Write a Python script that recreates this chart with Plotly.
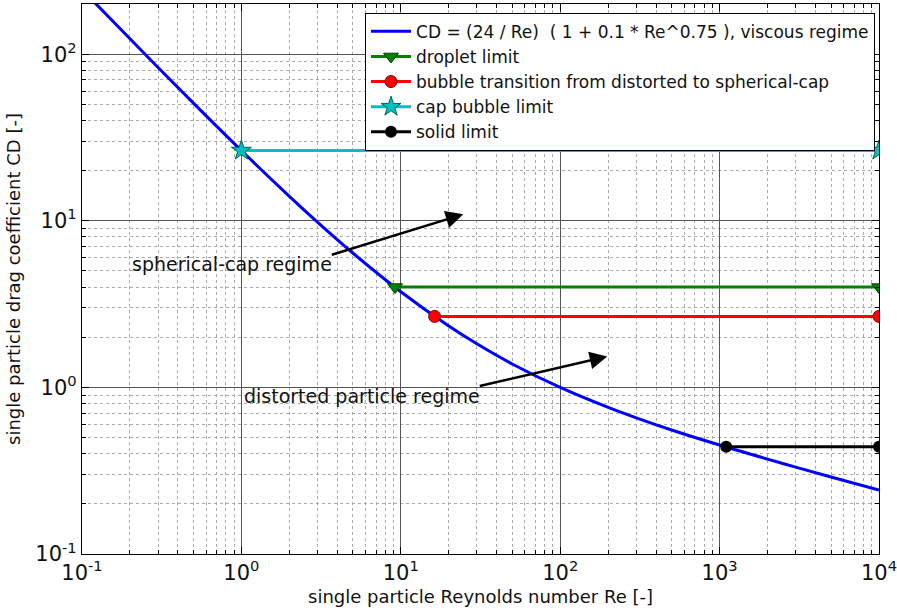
import math
import plotly.graph_objects as go

# ---- data ----
re_curve = [0.1, 0.2, 0.3, 0.5, 1, 2, 3, 5, 10, 20, 30, 50, 100, 200, 300, 500, 1000, 2000, 3000, 5000, 10000]
cd_curve = [244.3, 123.6, 83.24, 50.85, 26.4, 14.02, 9.82, 6.405, 3.75, 2.335, 1.826, 1.382, 0.999,
            0.758, 0.6566, 0.555, 0.4507, 0.371, 0.3323, 0.290, 0.2424]

droplet_re = [9.2, 10000]
droplet_cd = [4.0, 4.0]
bubble_re = [16.3, 10000]
bubble_cd = [2.667, 2.667]
cap_re = [1.0, 10000]
cap_cd = [26.4, 26.4]
solid_re = [1100, 10000]
solid_cd = [0.44, 0.44]

x_tickvals = [0.1, 1, 10, 100, 1000, 10000]
x_ticktext = ["10<sup>-1</sup>", "10<sup>0</sup>", "10<sup>1</sup>", "10<sup>2</sup>", "10<sup>3</sup>", "10<sup>4</sup>"]
y_tickvals = [0.1, 1, 10, 100]
y_ticktext = ["10<sup>-1</sup>", "10<sup>0</sup>", "10<sup>1</sup>", "10<sup>2</sup>"]

names = ["CD = (24 / Re)  ( 1 + 0.1 * Re^0.75 ), viscous regime",
         "droplet limit",
         "bubble transition from distorted to spherical-cap",
         "cap bubble limit",
         "solid limit"]

FONT = "DejaVu Sans"
fig = go.Figure()
fig.add_trace(go.Scatter(x=re_curve, y=cd_curve, mode="lines", name=names[0],
                         line=dict(color="#0000ff", width=3, shape="spline")))
fig.add_trace(go.Scatter(x=droplet_re, y=droplet_cd, mode="lines+markers", name=names[1],
                         line=dict(color="#008000", width=3),
                         marker=dict(symbol="triangle-down", size=13, color="#008000",
                                     line=dict(color="#004000", width=1))))
fig.add_trace(go.Scatter(x=bubble_re, y=bubble_cd, mode="lines+markers", name=names[2],
                         line=dict(color="#ff0000", width=3),
                         marker=dict(symbol="circle", size=12, color="#ff0000",
                                     line=dict(color="#800000", width=1))))
fig.add_trace(go.Scatter(x=cap_re, y=cap_cd, mode="lines+markers", name=names[3],
                         line=dict(color="#00bfbf", width=3),
                         marker=dict(symbol="star", size=15, color="#00bfbf",
                                     line=dict(color="#005f5f", width=1))))
fig.add_trace(go.Scatter(x=solid_re, y=solid_cd, mode="lines+markers", name=names[4],
                         line=dict(color="#000000", width=3),
                         marker=dict(symbol="circle", size=12, color="#000000")))

# annotations (positions in log10 data units)
arrows = [
    dict(head=(1.392, 1.039), tail=(0.558, 0.793)),
    dict(head=(2.295, 0.186), tail=(1.486, 0.006)),
]
texts = [("spherical-cap regime", -0.696, 0.739), ("distorted particle regime", 0.006, -0.054)]
for a in arrows:
    fig.add_annotation(x=a["head"][0], y=a["head"][1], ax=a["tail"][0], ay=a["tail"][1],
                       xref="x", yref="y", axref="x", ayref="y", text="", showarrow=True,
                       arrowhead=2, arrowsize=1.4, arrowwidth=2.5, arrowcolor="black")
for t, x, y in texts:
    fig.add_annotation(x=x, y=y, xref="x", yref="y", text=t, showarrow=False,
                       xanchor="left", yanchor="middle",
                       font=dict(family=FONT, size=19, color="#111111"))

axis_common = dict(
    type="log",
    showgrid=True, gridcolor="#555555", gridwidth=1,
    showline=True, linecolor="black", linewidth=1.2, mirror="allticks",
    ticks="inside", ticklen=7, tickcolor="black",
    tickfont=dict(family=FONT, size=21, color="#111111"),
    ticklabeloverflow="allow",
    minor=dict(showgrid=True, gridcolor="#aaaaaa", griddash="dot", gridwidth=1,
               ticks="inside", ticklen=4, tickcolor="black", dtick="D1"),
    zeroline=False,
)
fig.update_xaxes(range=[-1, 4], tickvals=x_tickvals, ticktext=x_ticktext, automargin=False,
                 title=dict(text="single particle Reynolds number Re [-]",
                            font=dict(family=FONT, size=18, color="#111111"), standoff=6),
                 **axis_common)
fig.update_yaxes(range=[-1, math.log10(200)], tickvals=y_tickvals, ticktext=y_ticktext, automargin=False,
                 title=dict(text="single particle drag coefficient CD [-]",
                            font=dict(family=FONT, size=18, color="#111111"), standoff=10),
                 **axis_common)

fig.update_layout(
    width=897, height=611,
    margin=dict(l=82, r=18, t=4, b=57),
    plot_bgcolor="white", paper_bgcolor="white",
    font=dict(family=FONT, size=17, color="#111111"),
    showlegend=True,
    legend=dict(x=0.995, y=0.984, xanchor="right", yanchor="top",
                bgcolor="white", bordercolor="black", borderwidth=1,
                font=dict(family=FONT, size=17, color="#111111"),
                tracegroupgap=0, itemwidth=40),
)
fig.write_html("out.html")
